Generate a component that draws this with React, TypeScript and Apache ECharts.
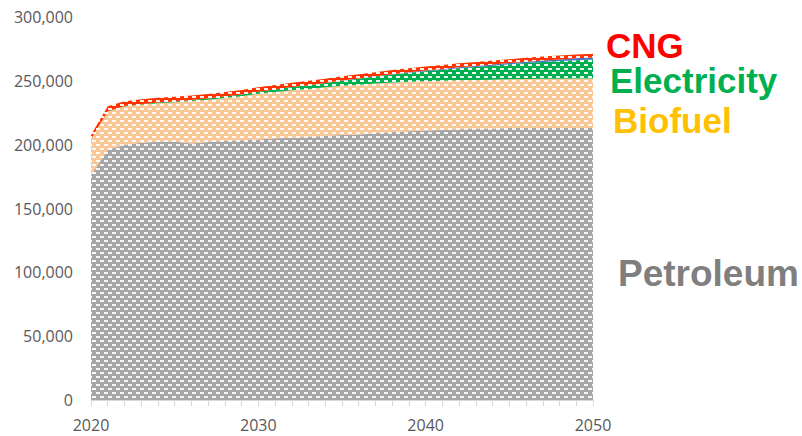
import React, { useEffect, useRef } from "react";
import * as echarts from "echarts";

const years: string[] = [];
for (let y = 2020; y <= 2050; y++) years.push(String(y));

const petroleum = [176000, 196000, 200000, 201500, 202300, 202500, 201000, 202000, 203000, 203500, 204000, 205000, 205500, 206000, 207000, 207500, 208000, 209000, 210000, 210500, 211000, 211500, 212000, 212500, 212500, 213000, 213000, 213000, 213000, 213000, 213000];
const biofuel = [28400, 30000, 29900, 29800, 30200, 30800, 33200, 33200, 33600, 34500, 35900, 36300, 37200, 37700, 38000, 38600, 39000, 38900, 38700, 38800, 38700, 38600, 38500, 38200, 38400, 38200, 38400, 38600, 38700, 38800, 38800];
const electricity = [100, 200, 300, 400, 500, 600, 700, 900, 1100, 1300, 1600, 2000, 2400, 2900, 3400, 4000, 4700, 5400, 6200, 7000, 7800, 8600, 9400, 10200, 11000, 11800, 12500, 13200, 13800, 14400, 15000];
const hydrogen = [0, 0, 0, 0, 0, 0, 0, 0, 0, 0, 0, 0, 0, 0, 0, 100, 200, 200, 300, 400, 500, 600, 700, 800, 900, 1000, 1100, 1200, 1300, 1400, 1500];
const cng = [3000, 3800, 3800, 3800, 3800, 3700, 3700, 3600, 3600, 3500, 3500, 3400, 3400, 3400, 3300, 3300, 3300, 3300, 3200, 3200, 3200, 3200, 3100, 3100, 3100, 3000, 3000, 3000, 3000, 3000, 3000];

const labelTexts = ["CNG", "Electricity", "Biofuel", "Petroleum"];

function makePattern(base: string): string {
  const c = document.createElement("canvas");
  c.width = 8;
  c.height = 8;
  const ctx = c.getContext("2d")!;
  ctx.fillStyle = base;
  ctx.fillRect(0, 0, 8, 8);
  ctx.fillStyle = "rgba(255,255,255,0.92)";
  ctx.fillRect(0, 0, 4, 2);
  ctx.fillRect(4, 4, 4, 2);
  return c.toDataURL();
}

export default function App() {
  const ref = useRef<HTMLDivElement>(null);
  useEffect(() => {
    if (!ref.current) return;
    const chart = echarts.init(ref.current, undefined, { renderer: "svg" });
    const pat = (col: string) => ({ image: makePattern(col), repeat: "repeat" as const });
    const mk = (name: string, data: number[], col: string, patterned: boolean) => ({
      name,
      type: "line" as const,
      stack: "total",
      data,
      showSymbol: false,
      symbol: "none",
      lineStyle: { width: 0 },
      areaStyle: { color: patterned ? pat(col) : col, opacity: 1 },
      itemStyle: { color: col },
      z: 2,
    });
    const font = "'Open Sans', sans-serif";
    const lblFont = "'Liberation Sans', Arial, sans-serif";
    chart.setOption({
      animation: false,
      grid: { left: 91, right: 209, top: 17, bottom: 36 },
      xAxis: {
        type: "category",
        data: years,
        boundaryGap: false,
        axisLine: { lineStyle: { color: "#d9d9d9", width: 1 } },
        axisTick: { show: true, interval: 0, length: 6, lineStyle: { color: "#d9d9d9" } },
        axisLabel: { interval: 9, color: "#595959", fontSize: 16, fontFamily: font, margin: 17 },
        splitLine: { show: false },
      },
      yAxis: {
        type: "value",
        min: 0,
        max: 300000,
        interval: 50000,
        axisLine: { show: false },
        axisTick: { show: false },
        splitLine: { show: false },
        axisLabel: {
          color: "#595959",
          fontSize: 16,
          fontFamily: font,
          margin: 18,
          formatter: (v: number) => v.toLocaleString("en-US"),
        },
      },
      series: [
        mk("Petroleum", petroleum, "#a6a6a6", true),
        mk("Biofuel", biofuel, "#fcc796", true),
        mk("Electricity", electricity, "#00b050", true),
        mk("Hydrogen", hydrogen, "#4472c4", false),
        mk("CNG", cng, "#ff3300", true),
      ],
      graphic: [
        { type: "text", left: 606, top: 28, style: { text: labelTexts[0], fill: "#ff0000", font: `bold 35px ${lblFont}`, lineHeight: 30 } },
        { type: "text", left: 610, top: 63, style: { text: labelTexts[1], fill: "#00b050", font: `bold 35px ${lblFont}`, lineHeight: 30 } },
        { type: "text", left: 613, top: 103, style: { text: labelTexts[2], fill: "#ffc000", font: `bold 35px ${lblFont}`, lineHeight: 30 } },
        { type: "text", left: 618, top: 255, style: { text: labelTexts[3], fill: "#7f7f7f", font: `bold 37px ${lblFont}`, lineHeight: 32 } },
      ],
    });
    return () => chart.dispose();
  }, []);
  return <div ref={ref} style={{ width: 802, height: 436, position: "absolute", left: 0, top: 0 }} />;
}
